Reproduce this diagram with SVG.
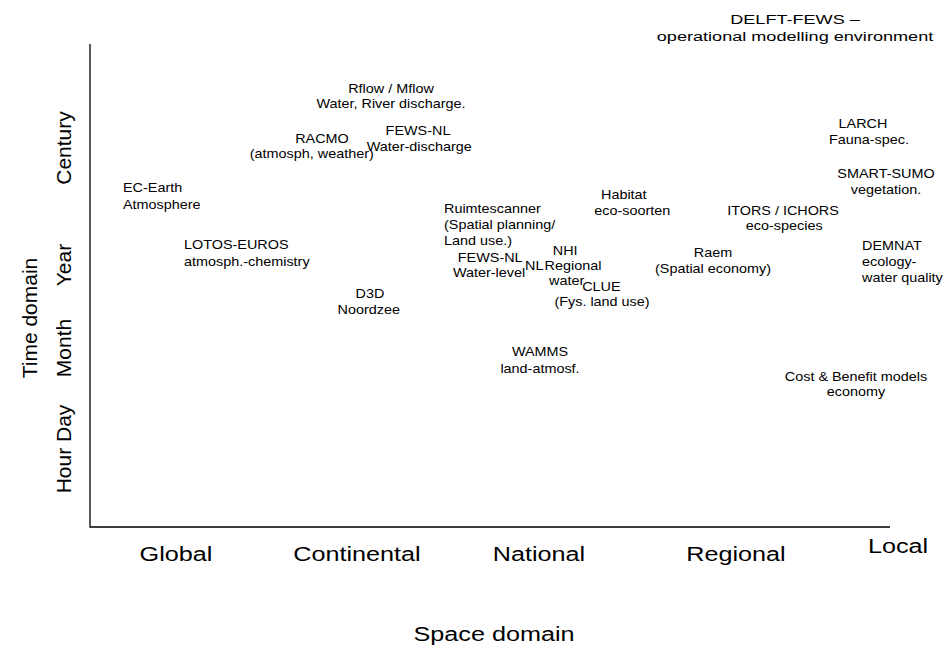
<svg xmlns="http://www.w3.org/2000/svg" width="951" height="646" viewBox="0 0 951 646">
<style>
  text { font-family: "Liberation Sans", Arial, sans-serif; fill: #000; }
  .lbl { font-size: 12px; }
  .mid { text-anchor: middle; }
  .st { text-anchor: start; }
  .ax { font-size: 21px; text-anchor: middle; }
  .ttl { font-size: 13.5px; text-anchor: middle; }
  .axis { stroke: #000; stroke-width: 1.3; fill: none; }
</style>
<rect width="951" height="646" fill="#fff"/>
<g id="axes">
  <path class="axis" d="M90,44 V527 H890"/>
</g>
<g id="x-labels">
  <g transform="translate(176,0) scale(1.2,1)"><text class="ax" x="0" y="561">Global</text></g>
  <g transform="translate(357,0) scale(1.2,1)"><text class="ax" x="0" y="561">Continental</text></g>
  <g transform="translate(539,0) scale(1.2,1)"><text class="ax" x="0" y="561">National</text></g>
  <g transform="translate(736,0) scale(1.2,1)"><text class="ax" x="0" y="561">Regional</text></g>
  <g transform="translate(898,0) scale(1.2,1)"><text class="ax" x="0" y="553">Local</text></g>
  <g transform="translate(494,0) scale(1.2,1)"><text class="ax" x="0" y="641">Space domain</text></g>
</g>
<g id="y-labels">
  <text class="ax" transform="translate(71,148) rotate(-90)">Century</text>
  <text class="ax" transform="translate(71,265) rotate(-90)">Year</text>
  <text class="ax" transform="translate(71,348) rotate(-90)">Month</text>
  <text class="ax" transform="translate(71,449) rotate(-90)">Hour Day</text>
  <text class="ax" transform="translate(37,318) rotate(-90)">Time domain</text>
</g>
<g id="delft-fews" transform="translate(795,0) scale(1.34,1)">
  <text class="ttl" x="0" y="24">DELFT-FEWS –</text>
  <text class="ttl" x="0" y="41">operational modelling environment</text>
</g>
<g id="rflow" transform="translate(391,0) scale(1.2,1)">
  <text class="lbl mid" x="0" y="93">Rflow / Mflow</text>
  <text class="lbl mid" x="0" y="108">Water, River discharge.</text>
</g>
<g id="racmo" transform="translate(322,0) scale(1.2,1)">
  <text class="lbl mid" x="0" y="143">RACMO</text>
  <text class="lbl mid" x="-8.5" y="158">(atmosph, weather)</text>
</g>
<g id="fews-nl-1" transform="translate(418,0) scale(1.2,1)">
  <text class="lbl mid" x="0" y="135">FEWS-NL</text>
  <text class="lbl mid" x="1" y="151">Water-discharge</text>
</g>
<g id="ec-earth" transform="translate(123,0) scale(1.2,1)">
  <text class="lbl st" x="0" y="192">EC-Earth</text>
  <text class="lbl st" x="0" y="209">Atmosphere</text>
</g>
<g id="lotos-euros" transform="translate(184,0) scale(1.2,1)">
  <text class="lbl st" x="0" y="249">LOTOS-EUROS</text>
  <text class="lbl st" x="0" y="266">atmosph.-chemistry</text>
</g>
<g id="ruimtescanner" transform="translate(444,0) scale(1.2,1)">
  <text class="lbl st" x="0" y="213">Ruimtescanner</text>
  <text class="lbl st" x="0" y="229">(Spatial planning/</text>
  <text class="lbl st" x="0" y="245">Land use.)</text>
</g>
<g id="fews-nl-2" transform="translate(489,0) scale(1.2,1)">
  <text class="lbl mid" x="1" y="262">FEWS-NL</text>
  <text class="lbl mid" x="0" y="277">Water-level</text>
</g>
<g id="nl" transform="translate(525,0) scale(1.2,1)">
  <text class="lbl st" x="0" y="270">NL</text>
</g>
<g id="nhi" transform="translate(570,0) scale(1.2,1)">
  <text class="lbl mid" x="-4" y="255">NHI</text>
  <text class="lbl mid" x="2.5" y="270">Regional</text>
  <text class="lbl st" x="-17.5" y="285">water</text>
</g>
<g id="clue" transform="translate(602,0) scale(1.2,1)">
  <text class="lbl st" x="-16.5" y="291">CLUE</text>
  <text class="lbl mid" x="0" y="306">(Fys. land use)</text>
</g>
<g id="habitat" transform="translate(628,0) scale(1.2,1)">
  <text class="lbl mid" x="-3.5" y="199">Habitat</text>
  <text class="lbl mid" x="3.5" y="215">eco-soorten</text>
</g>
<g id="itors" transform="translate(783,0) scale(1.2,1)">
  <text class="lbl mid" x="0" y="215">ITORS / ICHORS</text>
  <text class="lbl mid" x="1" y="230">eco-species</text>
</g>
<g id="raem" transform="translate(713,0) scale(1.2,1)">
  <text class="lbl mid" x="0" y="257">Raem</text>
  <text class="lbl mid" x="0" y="273">(Spatial economy)</text>
</g>
<g id="demnat" transform="translate(862,0) scale(1.2,1)">
  <text class="lbl st" x="0" y="250">DEMNAT</text>
  <text class="lbl st" x="0" y="266">ecology-</text>
  <text class="lbl st" x="0" y="282">water quality</text>
</g>
<g id="larch" transform="translate(866,0) scale(1.2,1)">
  <text class="lbl mid" x="-2.5" y="128">LARCH</text>
  <text class="lbl mid" x="2.5" y="144">Fauna-spec.</text>
</g>
<g id="smart-sumo" transform="translate(886,0) scale(1.2,1)">
  <text class="lbl mid" x="0" y="178">SMART-SUMO</text>
  <text class="lbl mid" x="0" y="194">vegetation.</text>
</g>
<g id="d3d" transform="translate(370,0) scale(1.2,1)">
  <text class="lbl mid" x="0" y="298">D3D</text>
  <text class="lbl mid" x="-1" y="314">Noordzee</text>
</g>
<g id="wamms" transform="translate(540,0) scale(1.2,1)">
  <text class="lbl mid" x="0" y="356">WAMMS</text>
  <text class="lbl mid" x="0" y="373">land-atmosf.</text>
</g>
<g id="cost-benefit" transform="translate(856,0) scale(1.2,1)">
  <text class="lbl mid" x="0" y="381">Cost &amp; Benefit models</text>
  <text class="lbl mid" x="0" y="396">economy</text>
</g>
<g id="connectors"/>
</svg>
